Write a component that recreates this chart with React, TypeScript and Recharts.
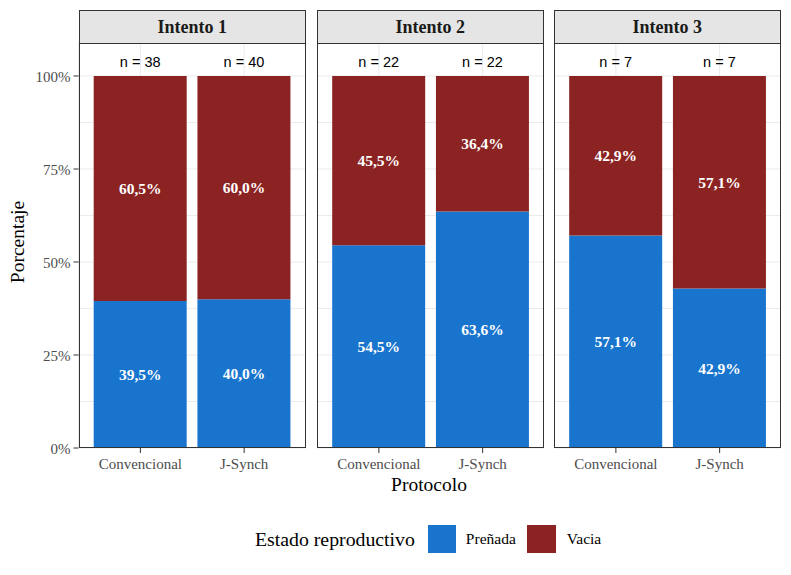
import React from 'react';
import { BarChart, Bar, XAxis, YAxis, CartesianGrid, LabelList } from 'recharts';

const intentos = ['Intento 1', 'Intento 2', 'Intento 3'];
const protocolos = ['Convencional', 'J-Synch'];
const nAnimales = [[38, 40], [22, 22], [7, 7]];
const prenada = [[39.5, 40.0], [54.5, 63.6], [57.1, 42.9]];
const vacia = [[60.5, 60.0], [45.5, 36.4], [42.9, 57.1]];
const yTicks = [0, 25, 50, 75, 100];
const yGrid = [0, 12.5, 25, 37.5, 50, 62.5, 75, 87.5, 100];

const AZUL = '#1874CD';
const ROJO = '#8B2323';
const SERIF = '"Liberation Serif", "Times New Roman", serif';
const SANS = '"Liberation Sans", Arial, sans-serif';

const PANEL_LEFT = [78.5, 316.5, 553.5];
const PANEL_W = 227.5;
const PANEL_TOP = 42.5;
const PANEL_BOTTOM = 448;
const STRIP_TOP = 9.5;

const fmt = (v: number) => v.toFixed(1).replace('.', ',') + '%';

const Panel: React.FC<{ idx: number }> = ({ idx }) => {
  const data = protocolos.map((p, j) => ({
    protocolo: p,
    n: nAnimales[idx][j],
    prenada: prenada[idx][j],
    vacia: vacia[idx][j],
  }));
  const first = idx === 0;
  const yW = first ? PANEL_LEFT[0] : 0;
  const left = first ? 0 : PANEL_LEFT[idx];
  return (
    <div style={{ position: 'absolute', left, top: 0 }}>
      <BarChart
        width={PANEL_W + yW}
        height={PANEL_BOTTOM + 30}
        data={data}
        margin={{ top: PANEL_TOP, right: 0, bottom: 0, left: 0 }}
        barCategoryGap="5%"
      >
        <CartesianGrid stroke="#EBEBEB" horizontalValues={yGrid} strokeWidth={1} />
        <XAxis
          dataKey="protocolo"
          height={30}
          padding={{ left: 10, right: 10 }}
          axisLine={false}
          tickLine={{ stroke: '#333333' }}
          tickSize={5}
          tickMargin={5}
          tick={{ fill: '#4D4D4D', fontSize: 15, fontFamily: SERIF }}
        />
        <YAxis
          hide={!first}
          width={yW}
          type="number"
          domain={[0, 109]}
          ticks={yTicks}
          allowDataOverflow
          axisLine={false}
          tickLine={{ stroke: '#333333' }}
          tickSize={5}
          tickMargin={3}
          tickFormatter={(v: number) => `${v}%`}
          tick={{ fill: '#4D4D4D', fontSize: 15, fontFamily: SERIF, dy: 1 }}
        />
        <Bar dataKey="prenada" stackId="a" fill={AZUL} isAnimationActive={false}>
          <LabelList
            dataKey="prenada"
            position="center"
            formatter={(v: number) => fmt(v)}
            fill="#FFFFFF"
            style={{ fontFamily: SERIF, fontWeight: 'bold', fontSize: 15.5 }}
          />
        </Bar>
        <Bar dataKey="vacia" stackId="a" fill={ROJO} isAnimationActive={false}>
          <LabelList
            dataKey="vacia"
            position="center"
            formatter={(v: number) => fmt(v)}
            fill="#FFFFFF"
            style={{ fontFamily: SERIF, fontWeight: 'bold', fontSize: 15.5 }}
          />
          <LabelList
            dataKey="n"
            position="top"
            offset={8.5}
            formatter={(v: number) => `n = ${v}`}
            fill="#000000"
            style={{ fontFamily: SANS, fontSize: 14.5 }}
          />
        </Bar>
      </BarChart>
    </div>
  );
};

export default function App() {
  return (
    <div style={{ position: 'absolute', left: 0, top: 0, width: 791, height: 575, background: '#FFFFFF', overflow: 'hidden' }}>
      {intentos.map((t, i) => (
        <React.Fragment key={t}>
          <Panel idx={i} />
          <div
            style={{
              position: 'absolute',
              left: PANEL_LEFT[i],
              top: STRIP_TOP,
              width: PANEL_W,
              height: PANEL_TOP - STRIP_TOP,
              boxSizing: 'border-box',
              background: '#E5E5E5',
              border: '1.2px solid #333333',
              borderBottom: 'none',
              display: 'flex',
              alignItems: 'center',
              justifyContent: 'center',
              paddingTop: 2,
              fontFamily: SERIF,
              fontWeight: 'bold',
              fontSize: 18,
              color: '#1A1A1A',
            }}
          >
            {t}
          </div>
          <div
            style={{
              position: 'absolute',
              left: PANEL_LEFT[i],
              top: PANEL_TOP,
              width: PANEL_W,
              height: PANEL_BOTTOM - PANEL_TOP,
              boxSizing: 'border-box',
              border: '1.2px solid #333333',
              pointerEvents: 'none',
            }}
          />
        </React.Fragment>
      ))}
      <div
        style={{
          position: 'absolute',
          left: 18,
          top: 242,
          transform: 'translate(-50%, -50%) rotate(-90deg)',
          fontFamily: SERIF,
          fontSize: 19.5,
          color: '#000',
          whiteSpace: 'nowrap',
        }}
      >
        Porcentaje
      </div>
      <div
        style={{
          position: 'absolute',
          left: 429,
          top: 485,
          transform: 'translate(-50%, -50%)',
          fontFamily: SERIF,
          fontSize: 19.5,
          color: '#000',
          whiteSpace: 'nowrap',
        }}
      >
        Protocolo
      </div>
      <div
        style={{
          position: 'absolute',
          left: 255,
          top: 525,
          height: 28,
          display: 'flex',
          alignItems: 'center',
          fontFamily: SERIF,
          color: '#000',
          whiteSpace: 'nowrap',
        }}
      >
        <span style={{ fontSize: 19.8, marginRight: 13 }}>Estado reproductivo</span>
        <span style={{ width: 28, height: 28, background: AZUL, display: 'inline-block' }} />
        <span style={{ fontSize: 15.5, marginLeft: 10, marginRight: 11 }}>Preñada</span>
        <span style={{ width: 29, height: 28, background: ROJO, display: 'inline-block' }} />
        <span style={{ fontSize: 15.5, marginLeft: 11 }}>Vacia</span>
      </div>
    </div>
  );
}
